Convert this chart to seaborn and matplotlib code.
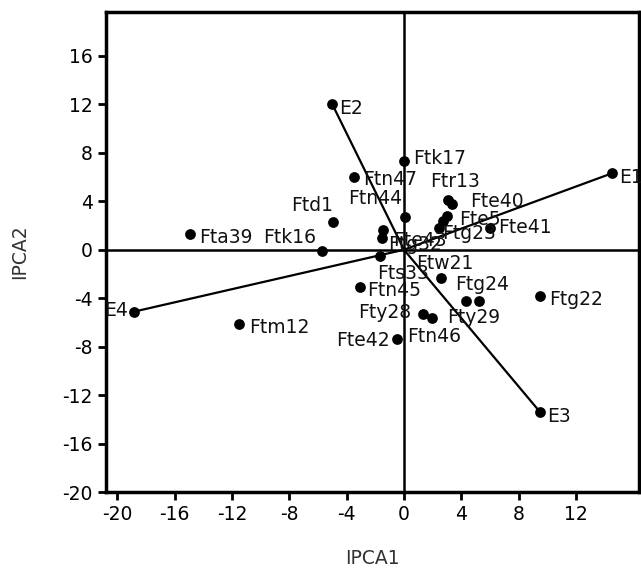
import matplotlib
matplotlib.use("Agg")
import matplotlib.pyplot as plt
import seaborn as sns
import pandas as pd

# Environment vectors (IPCA1, IPCA2)
env_names = ["E1", "E2", "E3", "E4"]
env_ipca1 = [14.5, -5.0, 9.5, -18.8]
env_ipca2 = [6.3, 12.0, -13.4, -5.1]

# Genotype scores
gen_names = ["Ftk17", "Ftn47", "Ftn44", "Ftr13", "Fte40", "Fte5", "Ftg23", "Fte41",
             "Ftd1", "Ftk16", "Fta39", "Ftm12", "Ftg22", "Fte42", "Fty28", "Ftn46",
             "Ftg24", "Fty29", "Ftw21", "Ftn45", "Fts33", "Fte43", "Ftg32", "Ftc31"]
gen_ipca1 = [0.0, -3.5, 0.05, 3.1, 3.35, 3.0, 2.75, 6.0,
             -4.95, -5.7, -14.9, -11.5, 9.5, -0.5, 1.35, 1.95,
             4.3, 5.2, 2.6, -3.1, -1.7, -1.45, -1.55, 2.45]
gen_ipca2 = [7.3, 6.0, 2.7, 4.1, 3.8, 2.8, 2.4, 1.8,
             2.3, -0.1, 1.3, -6.1, -3.8, -7.4, -5.3, -5.6,
             -4.2, -4.2, -2.3, -3.1, -0.5, 1.6, 1.0, 1.8]

# label placement (offset in pixels, horizontal alignment)
label_pos = {
    "E1": (7, -4, "left"), "E2": (7, -4, "left"), "E3": (7, -4, "left"), "E4": (-6, 1, "right"),
    "Ftk17": (9, 3, "left"), "Ftn47": (9, -3, "left"), "Ftn44": (-2, 18, "right"),
    "Ftr13": (-18, 19, "left"), "Fte40": (18, 2, "left"), "Fte5": (12, -4, "left"),
    "Ftg23": (-1, -13, "left"), "Fte41": (8, 0, "left"), "Ftd1": (0, 16, "right"),
    "Ftk16": (-6, 13, "right"), "Fta39": (9, -4, "left"), "Ftm12": (10, -4, "left"),
    "Ftg22": (9, -4, "left"), "Fte42": (-7, -1, "right"), "Fty28": (-12, 1, "right"),
    "Ftn46": (2, -19, "center"), "Ftg24": (-10, 16, "left"), "Fty29": (-5, -17, "center"),
    "Ftw21": (4, 14, "center"), "Ftn45": (8, -3, "left"), "Fts33": (-2, -18, "left"),
    "Fte43": (10, -10, "left"), "Ftg32": (6, -7, "left"), "Ftc31": (0, 0, None),
}

env = pd.DataFrame({"name": env_names, "IPCA1": env_ipca1, "IPCA2": env_ipca2})
gen = pd.DataFrame({"name": gen_names, "IPCA1": gen_ipca1, "IPCA2": gen_ipca2})

sns.set_style("ticks")
plt.rcParams["font.family"] = ["DejaVu Sans"]
plt.rcParams["axes.unicode_minus"] = False

fig = plt.figure(figsize=(6.41, 5.77), dpi=100)
ax = fig.add_axes([0.165, 0.147, 0.832, 0.832])

ax.axhline(0, color="black", lw=1.8, zorder=1)
ax.axvline(0, color="black", lw=1.8, zorder=1)

# vectors from origin to environments
for _, r in env.iterrows():
    ax.plot([0, r["IPCA1"]], [0, r["IPCA2"]], color="black", lw=1.6, zorder=2)

sns.scatterplot(data=pd.concat([env, gen]), x="IPCA1", y="IPCA2", color="black",
                s=60, edgecolor="black", linewidth=0, ax=ax, zorder=3, legend=False)

for _, r in pd.concat([env, gen]).iterrows():
    dx, dy, ha = label_pos[r["name"]]
    if ha is None:
        continue
    ax.annotate(r["name"], (r["IPCA1"], r["IPCA2"]), xytext=(dx, dy),
                textcoords="offset pixels", ha=ha, va="center",
                fontsize=13.5, color="#111111", zorder=4)

ax.set_xlim(-20.8, 16.4)
ax.set_ylim(-20, 19.6)
ax.set_xticks(range(-20, 13, 4))
ax.set_yticks(range(-20, 17, 4))
ax.tick_params(axis="both", labelsize=13.5, length=6, width=2, direction="out", colors="black")
for s in ax.spines.values():
    s.set_linewidth(2.5)
    s.set_color("black")

ax.set_xlabel("IPCA1", fontsize=13.5, color="#333333", labelpad=18)
ax.set_ylabel("IPCA2", fontsize=13.5, color="#333333", labelpad=24)

fig.savefig("out.png", dpi=100)
